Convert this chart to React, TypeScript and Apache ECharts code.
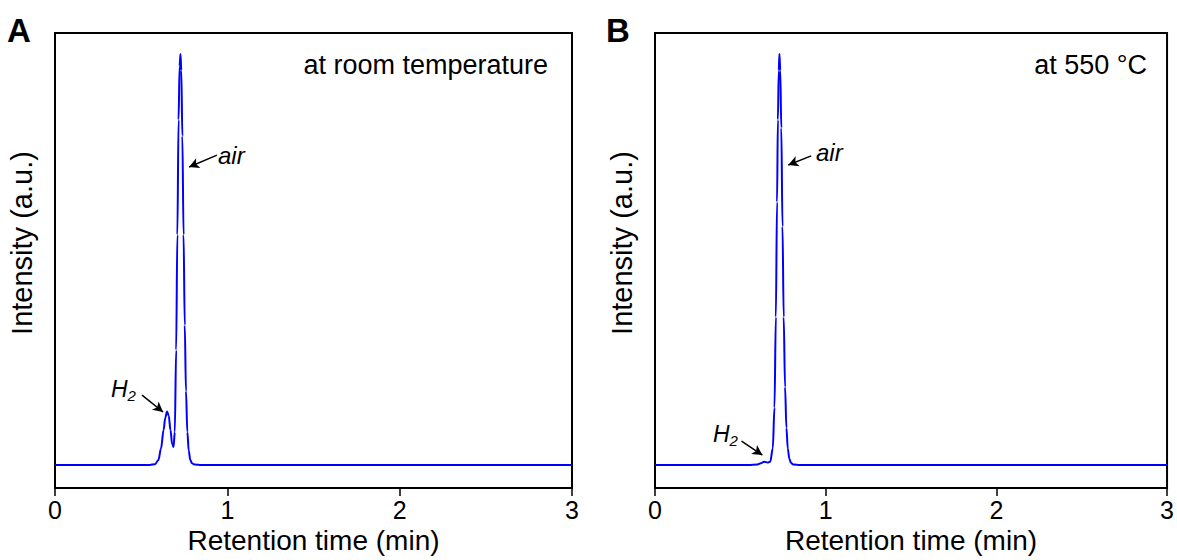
import React, { useEffect, useRef } from "react";
import * as echarts from "echarts";

// Panel A (room temperature) chromatogram: retention time (min) and intensity (a.u.)
const timeA = [0, 0.3, 0.55, 0.58, 0.6, 0.615, 0.63, 0.64, 0.65, 0.66, 0.67, 0.68, 0.688, 0.695, 0.703, 0.71, 0.717, 0.723, 0.728, 0.733, 0.739, 0.746, 0.753, 0.76, 0.768, 0.776, 0.785, 0.795, 0.81, 0.85, 1.2, 1.8, 2.4, 3];
const intensityA = [0, 0, 0, 0.2, 1.2, 4, 8.5, 11.5, 13, 12, 8.5, 5, 4.4, 8, 28, 56, 84, 97, 100, 96, 80, 56, 34, 18, 8, 3.5, 1.2, 0.4, 0.1, 0, 0, 0, 0, 0];

// Panel B (550 °C) chromatogram
const timeB = [0, 0.3, 0.55, 0.6, 0.62, 0.64, 0.66, 0.675, 0.69, 0.7, 0.708, 0.715, 0.72, 0.725, 0.729, 0.734, 0.74, 0.747, 0.754, 0.762, 0.77, 0.778, 0.787, 0.797, 0.81, 0.85, 1.2, 1.8, 2.4, 3];
const intensityB = [0, 0, 0, 0.1, 0.4, 0.8, 0.6, 0.8, 4, 14, 36, 64, 84, 96, 100, 96, 82, 58, 36, 19, 9, 4, 1.5, 0.5, 0.1, 0, 0, 0, 0, 0];

const xTicks = [0, 1, 2, 3];
const panelTitles = ["at room temperature", "at 550 °C"];
const panelLetters = ["A", "B"];
const xName = "Retention time (min)";
const yName = "Intensity (a.u.)";

// annotation arrows: [tailT, tailI, headT, headI]
const arrowsA = [
  [0.94, 75.4, 0.778, 72.5],
  [0.505, 17.0, 0.627, 12.9],
];
const arrowsB = [
  [0.915, 75.2, 0.781, 73.0],
  [0.507, 5.8, 0.629, 2.4],
];

const FONT = "Liberation Sans, Arial, sans-serif";

export default function App() {
  const ref = useRef<HTMLDivElement>(null);
  useEffect(() => {
    document.body.style.margin = "0";
    const chart = echarts.init(ref.current!, null, { renderer: "svg" });
    const grids = [
      { left: 55, top: 33, width: 517, height: 455 },
      { left: 655, top: 33, width: 515, height: 455 },
    ];
    const makeX = (i: number) => ({
      type: "value",
      gridIndex: i,
      min: 0,
      max: 3,
      interval: 1,
      name: xName,
      nameLocation: "middle",
      nameGap: 34,
      nameTextStyle: { fontSize: 28, color: "#000", fontFamily: FONT },
      axisLine: { show: true, onZero: false, lineStyle: { color: "#000", width: 2 } },
      axisTick: { show: true, inside: false, length: 8, lineStyle: { color: "#000", width: 1.5 } },
      axisLabel: {
        fontSize: 25,
        color: "#000",
        fontFamily: FONT,
        margin: 9,
        formatter: (v: number) => (xTicks.includes(v) ? String(v) : ""),
      },
      splitLine: { show: false },
    });
    const makeY = (i: number) => ({
      type: "value",
      gridIndex: i,
      min: -5.6,
      max: 105.1,
      axisLine: { show: true, onZero: false, lineStyle: { color: "#000", width: 2 } },
      axisTick: { show: false },
      axisLabel: { show: false },
      splitLine: { show: false },
    });
    const markArrows = (arr: number[][]) => ({
      silent: true,
      symbol: ["none", "arrow"],
      symbolSize: [8, 10],
      label: { show: false },
      lineStyle: { color: "#000", width: 1.5, type: "solid" },
      emphasis: { disabled: true },
      data: arr.map((a) => [{ coord: [a[0], a[1]] }, { coord: [a[2], a[3]] }]),
    });
    const italic = { fontSize: 24, fontStyle: "italic", fontFamily: FONT, fill: "#000" };
    const h2Rich = {
      h: { fontSize: 23, fontStyle: "italic", fontFamily: FONT, color: "#000" },
      s: { fontSize: 15, fontStyle: "italic", fontFamily: FONT, color: "#000", padding: [12, 0, 0, 0] },
    };
    const yNameStyle = { text: yName, fontSize: 29, fontFamily: FONT, fill: "#000", align: "center", verticalAlign: "middle" };
    chart.setOption({
      animation: false,
      grid: grids.map((g) => ({ ...g, show: true, borderColor: "#000", borderWidth: 2, backgroundColor: "transparent" })),
      xAxis: [makeX(0), makeX(1)],
      yAxis: [makeY(0), makeY(1)],
      series: [
        {
          type: "line",
          xAxisIndex: 0,
          yAxisIndex: 0,
          data: timeA.map((t, i) => [t, intensityA[i]]),
          showSymbol: false,
          smooth: 0.35,
          smoothMonotone: "x",
          lineStyle: { color: "#0000ff", width: 2 },
          markLine: markArrows(arrowsA),
        },
        {
          type: "line",
          xAxisIndex: 1,
          yAxisIndex: 1,
          data: timeB.map((t, i) => [t, intensityB[i]]),
          showSymbol: false,
          smooth: 0.35,
          smoothMonotone: "x",
          lineStyle: { color: "#0000ff", width: 2 },
          markLine: markArrows(arrowsB),
        },
      ],
      graphic: [
        { type: "text", x: 22, y: 243, rotation: Math.PI / 2, style: yNameStyle },
        { type: "text", x: 622, y: 243, rotation: Math.PI / 2, style: yNameStyle },
        { type: "text", x: 7, y: 30, style: { text: panelLetters[0], fontSize: 33, fontWeight: "bold", fontFamily: FONT, fill: "#000", verticalAlign: "middle" } },
        { type: "text", x: 606, y: 30, style: { text: panelLetters[1], fontSize: 33, fontWeight: "bold", fontFamily: FONT, fill: "#000", verticalAlign: "middle" } },
        { type: "text", x: 548, y: 65, style: { text: panelTitles[0], fontSize: 27, fontFamily: FONT, fill: "#000", align: "right", verticalAlign: "middle" } },
        { type: "text", x: 1147, y: 65, style: { text: panelTitles[1], fontSize: 27, fontFamily: FONT, fill: "#000", align: "right", verticalAlign: "middle" } },
        { type: "text", x: 218, y: 155, style: { text: "air", ...italic, verticalAlign: "middle" } },
        { type: "text", x: 816, y: 152, style: { text: "air", ...italic, verticalAlign: "middle" } },
        { type: "text", x: 111, y: 389, style: { text: "{h|H}{s|2}", rich: h2Rich, verticalAlign: "middle" } },
        { type: "text", x: 713, y: 434, style: { text: "{h|H}{s|2}", rich: h2Rich, verticalAlign: "middle" } },
      ],
    });
    return () => chart.dispose();
  }, []);
  return <div ref={ref} style={{ width: 1177, height: 560 }} />;
}
